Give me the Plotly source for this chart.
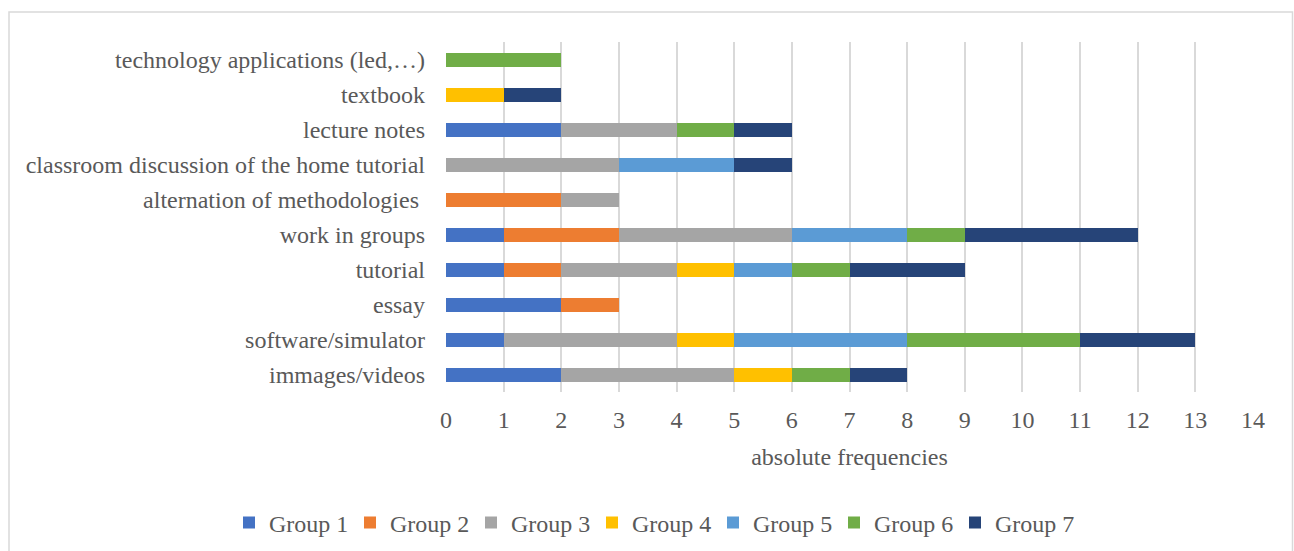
import plotly.graph_objects as go

# Categories listed bottom to top, as they stack on the y axis
categories = [
    "immages/videos",
    "software/simulator",
    "essay",
    "tutorial",
    "work in groups",
    "alternation of methodologies\u00a0",
    "classroom discussion of the home tutorial",
    "lecture notes",
    "textbook",
    "technology applications (led,\u2026)",
]

group_names = ["Group 1", "Group 2", "Group 3", "Group 4", "Group 5", "Group 6", "Group 7"]

group_1 = [2, 1, 2, 1, 1, 0, 0, 2, 0, 0]
group_2 = [0, 0, 1, 1, 2, 2, 0, 0, 0, 0]
group_3 = [3, 3, 0, 2, 3, 1, 3, 2, 0, 0]
group_4 = [1, 1, 0, 1, 0, 0, 0, 0, 1, 0]
group_5 = [0, 3, 0, 1, 2, 0, 2, 0, 0, 0]
group_6 = [1, 3, 0, 1, 1, 0, 0, 1, 0, 2]
group_7 = [1, 2, 0, 2, 3, 0, 1, 1, 1, 0]

x_ticks = list(range(0, 15))

series = [group_1, group_2, group_3, group_4, group_5, group_6, group_7]
colors = ["#4472C4", "#ED7D31", "#A5A5A5", "#FFC000", "#5B9BD5", "#70AD47", "#264478"]

FONT = "Liberation Serif, Times New Roman, serif"
TEXT = "#595959"
SIZE = 24
W, H = 1294, 551
L, R, T, B = 446, 1253, 42, 392  # plot area in pixels

fig = go.Figure()
for name, vals, col in zip(group_names, series, colors):
    fig.add_trace(go.Bar(
        y=categories, x=vals, name=name, orientation="h",
        marker=dict(color=col, line=dict(width=0)),
    ))


def px_x(p):
    return (p - L) / (R - L)


def px_y(p):
    return (B - p) / (B - T)


fig.update_layout(
    width=W, height=H,
    margin=dict(l=L, r=W - R, t=T, b=H - B, pad=0, autoexpand=False),
    barmode="stack", bargap=0.6,
    plot_bgcolor="white", paper_bgcolor="white",
    font=dict(family=FONT, size=SIZE, color=TEXT),
    xaxis=dict(
        range=[0, 14], tickvals=x_ticks, showgrid=True, gridcolor="#D9D9D9",
        gridwidth=2, zeroline=False, showline=False, ticks="",
        ticklabelstandoff=11, automargin=False,
        title=dict(text="absolute frequencies", standoff=16,
                   font=dict(family=FONT, size=SIZE, color=TEXT)),
    ),
    yaxis=dict(
        categoryorder="array", categoryarray=categories,
        showgrid=False, zeroline=False, showline=False, ticks="",
        ticklabelstandoff=20, automargin=False,
    ),
    legend=dict(
        orientation="h", x=px_x(229), xanchor="left", y=px_y(523), yanchor="middle",
        font=dict(family=FONT, size=SIZE, color=TEXT), traceorder="normal",
        itemwidth=30, entrywidth=76, tracegroupgap=0, bgcolor="rgba(0,0,0,0)",
    ),
    shapes=[dict(
        type="rect", xref="paper", yref="paper",
        x0=px_x(9), x1=px_x(1292.5), y0=px_y(12), y1=px_y(560),
        line=dict(color="#D9D9D9", width=1.5), layer="below",
    )],
)

fig.write_html("out.html")
